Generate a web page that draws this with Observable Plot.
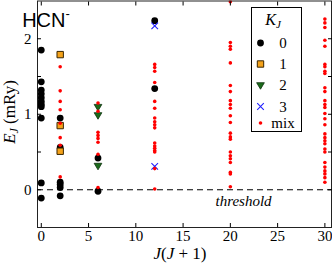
<!DOCTYPE html>
<html><head><meta charset="utf-8">
<script src="https://cdn.jsdelivr.net/npm/d3@7"></script>
<script src="https://cdn.jsdelivr.net/npm/@observablehq/plot@0.6"></script>
<style>body{margin:0;background:#fff} svg{display:block}</style>
</head><body><div id="chart"></div>
<script>
// J(J+1) -> energies (mRy)
const k0 = {0:[1.85,1.43,1.32,1.27,1.22,1.17,1.13,1.10,0.95,0.09,-0.11], 2:[0.95,0.56,0.10,0.07,0.03,-0.08], 6:[0.42,-0.02], 12:[2.24,1.34]};
const k1 = {2:[1.79,0.85,0.51]};
const k2 = {6:[1.10,0.99,0.32]};
const k3 = {12:[2.17,0.31]};
const mix = {
  2:[1.63,1.31,1.17,1.06,0.88,0.69,0.59,0.17],
  6:[1.15,1.04,0.76,0.72,0.68,0.63,0.47,0.03],
  12:[1.66,1.62,1.57,1.42,1.17,1.08,0.95,0.90,0.86,0.82,0.62,0.58,0.55,0.52,0.50,0.28,0.01],
  20:[2.49,1.95,1.90,1.86,1.68,1.38,1.30,1.18,1.13,1.08,0.98,0.89,0.75,0.70,0.67,0.50,0.45,0.41,0.36,0.23,0.21,0.04],
  30:[2.26,2.21,2.15,1.98,1.90,1.66,1.63,1.57,1.54,1.35,1.30,1.18,1.13,1.09,1.01,0.94,0.86,0.74,0.69,0.65,0.61,0.54,0.50,0.36,0.30,0.25,0.21,0.16,0.10]
};
const legendLabels = ["0","1","2","3","mix"];
const xTicks = [0,5,10,15,20,25,30];
const yTicks = [0,0.5,1,1.5,2];
const yTickLabels = [0,1,2];

const rows = s => Object.entries(s).flatMap(([x, ys]) => ys.map(y => ({x:+x, y})));

const triDown = {draw(ctx, size){ const a = Math.sqrt(size)*0.62; ctx.moveTo(-a,-a*0.6); ctx.lineTo(a,-a*0.6); ctx.lineTo(0,a*1.1); ctx.closePath(); }};

const serif = "Liberation Serif, Times New Roman, serif";
const styles = [
  {symbol:"circle", r:3.4, fill:"black", stroke:"none"},
  {symbol:"square", r:3.6, fill:"#f4a21a", stroke:"#3a2600", strokeWidth:1},
  {symbol:triDown, r:3.5, fill:"#1b6b1b", stroke:"#0c300c", strokeWidth:0.8},
  {symbol:"times", r:3.1, fill:"none", stroke:"#2020ff", strokeWidth:1.1},
  {symbol:"circle", r:1.8, fill:"#ff0000", stroke:"none"}
];
const series = [k0,k1,k2,k3,mix];

const plot = Plot.plot({
  width: 332, height: 265,
  marginLeft: 37, marginRight: 1, marginTop: 0.5, marginBottom: 38,
  style: {fontFamily: serif, fontSize: "15px", background: "#fff"},
  x: {domain: [-0.4, 30.7]},
  y: {domain: [-0.5, 2.5]},
  marks: [
    Plot.ruleY([0], {stroke: "black", strokeDasharray: "6,4", strokeWidth: 1}),
    ...series.map((s, i) => Plot.dot(rows(s), {x: "x", y: "y", clip: true, ...styles[i]})),
    Plot.frame({stroke: "#222", strokeWidth: 1}),
    Plot.axisX(xTicks, {anchor: "bottom", tickSize: 4, dy: -4, tickFormat: () => "", label: null}),
    Plot.axisX(xTicks, {anchor: "top", tickSize: 4, dy: 4, tickFormat: () => "", label: null}),
    Plot.axisY(yTicks, {anchor: "left", tickSize: 4, dx: 4, tickFormat: () => "", label: null}),
    Plot.axisY(yTicks, {anchor: "right", tickSize: 4, dx: -4, tickFormat: () => "", label: null}),
    Plot.axisX(xTicks, {anchor: "bottom", tickSize: 0, tickPadding: 3, fontSize: 15, label: null}),
    Plot.axisY(yTickLabels, {anchor: "left", tickSize: 0, tickPadding: 6, fontSize: 15, label: null, tickFormat: d => String(d)}),
    Plot.text(["threshold"], {frameAnchor: "bottom-left", dx: 178, dy: -22, textAnchor: "start", lineAnchor: "bottom", fontStyle: "italic", fontSize: 15, fontFamily: serif})
  ]
});

const svg = d3.select(plot);
// y label
const yl = svg.append("text").attr("transform", "translate(15,112) rotate(-90)").attr("text-anchor", "middle")
  .attr("font-family", serif).attr("font-size", 17).attr("fill", "black");
yl.append("tspan").attr("font-style", "italic").text("E");
yl.append("tspan").attr("font-style", "italic").attr("font-size", 12).attr("dy", 3).text("J");
yl.append("tspan").attr("dy", -3).text(" (mRy)");
// x label
const xl = svg.append("text").attr("x", 180).attr("y", 259).attr("text-anchor", "middle")
  .attr("font-family", serif).attr("font-size", 17).attr("fill", "black");
xl.append("tspan").attr("font-style", "italic").text("J");
xl.append("tspan").text("(");
xl.append("tspan").attr("font-style", "italic").text("J");
xl.append("tspan").text(" + 1)");
// molecule label
const hl = svg.append("text").attr("x", 46).attr("y", 27).attr("font-family", "Liberation Sans, Arial, sans-serif")
  .attr("font-size", 20).attr("fill", "black");
hl.append("tspan").text("HCN");
hl.append("tspan").attr("font-size", 13).attr("dy", -9).text("-");
// legend
const lg = svg.append("g");
lg.append("rect").attr("x", 251.5).attr("y", 7.5).attr("width", 50).attr("height", 124).attr("fill", "white").attr("stroke", "black");
const kt = lg.append("text").attr("x", 273).attr("y", 25).attr("text-anchor", "middle").attr("font-family", serif).attr("font-size", 16).attr("font-style", "italic");
kt.append("tspan").text("K");
kt.append("tspan").attr("font-size", 11).attr("dy", 3).text("J");
const ly = [43, 64, 85, 106.5, 123];
legendLabels.forEach((lab, i) => {
  const st = styles[i];
  const type = typeof st.symbol === "string" ? {circle: d3.symbolCircle, square: d3.symbolSquare, times: d3.symbolTimes}[st.symbol] : st.symbol;
  lg.append("path").attr("transform", `translate(260.5,${ly[i]})`)
    .attr("d", d3.symbol().type(type).size(Math.PI * st.r * st.r)())
    .attr("fill", st.fill).attr("stroke", st.stroke).attr("stroke-width", st.strokeWidth || 1);
  lg.append("text").attr("x", 283).attr("y", ly[i]).attr("dy", "0.35em").attr("text-anchor", "middle")
    .attr("font-family", serif).attr("font-size", 15).text(lab);
});
document.getElementById("chart").append(plot);
</script>
</body></html>
